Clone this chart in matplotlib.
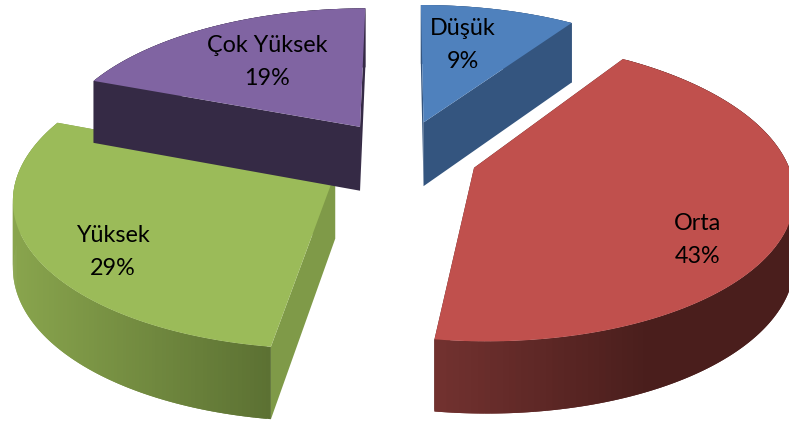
import numpy as np
import matplotlib
matplotlib.use('Agg')
import matplotlib.pyplot as plt
from matplotlib.colors import to_rgb

labels = ['Düşük', 'Orta', 'Yüksek', 'Çok Yüksek']
values = [9.45, 42.8, 28.55, 19.2]

top_colors = ['#4f81bd', '#c0504d', '#9bbb59', '#8064a2']
cut_colors = ['#34557f', '#4f1f1e', '#7f9a48', '#352a45']
rim_left = ['#34557f', '#733230', '#89a54d', '#352a45']
rim_right = ['#34557f', '#4a1e1c', '#5c7133', '#352a45']
rim_split = [None, 0.6, 1.0, None]  # where the rim gradient stops

# label anchors on the canvas
label_pos = [(463, 45), (698, 240), (113, 252), (267, 62)]

# perspective of the pie plane
cx, cy = 402, 155
rx, ry = 311, 143.7
persp = 0.148
explode = 0.245
depth = 65


def project(u, v, down=0.0):
    s = 1 / (1 + persp * v)
    return cx + rx * u * s, cy - ry * v * s + down * s ** 0.6


fig = plt.figure(figsize=(7.89, 4.21), dpi=100)
ax = fig.add_axes([0, 0, 1, 1])
ax.set_xlim(0, 789)
ax.set_ylim(421, 0)
ax.axis('off')

edges = np.cumsum([0] + values) / sum(values) * 2 * np.pi
slices = []
for i in range(len(values)):
    mid = (edges[i] + edges[i + 1]) / 2
    ou, ov = explode * np.sin(mid), explode * np.cos(mid)
    t = np.linspace(edges[i], edges[i + 1], 160)
    slices.append((ou, ov, ou + np.sin(t), ov + np.cos(t)))

# back to front
for i in [0, 3, 2, 1]:
    ou, ov, u, v = slices[i]

    # flat cut faces
    for k in [0, -1]:
        x0, y0 = project(ou, ov)
        x1, y1 = project(u[k], v[k])
        x2, y2 = project(u[k], v[k], depth)
        x3, y3 = project(ou, ov, depth)
        ax.fill([x0, x1, x2, x3], [y0, y1, y2, y3], color=cut_colors[i], lw=0, zorder=i)

    # rim wall, shaded along the arc; each quad overlaps the next to hide seams
    xt, yt = project(u, v)
    xb, yb = project(u, v, depth)
    lo, hi = xt.min(), xt.max()
    c0, c1 = np.array(to_rgb(rim_left[i])), np.array(to_rgb(rim_right[i]))
    for k in range(len(u) - 1):
        f = (xt[k] - lo) / (hi - lo)
        if rim_split[i]:
            f = min(f / rim_split[i], 1)
        col = c0 + (c1 - c0) * f
        n = min(k + 2, len(u) - 1)
        ax.fill([xt[k], xt[n], xb[n], xb[k]], [yt[k], yt[n], yb[n], yb[k]],
                color=col, lw=0, zorder=i)

    # top surface
    ax0, ay0 = project(ou, ov)
    ax.fill(np.r_[ax0, xt], np.r_[ay0, yt], color=top_colors[i], lw=0, zorder=i)

for i in range(len(values)):
    ax.text(*label_pos[i], f'{labels[i]}\n{values[i]:.0f}%', ha='center', va='center',
            fontsize=16.8, family='Lato', color='black', linespacing=1.7, zorder=10)

plt.savefig('out.png', dpi=100)
